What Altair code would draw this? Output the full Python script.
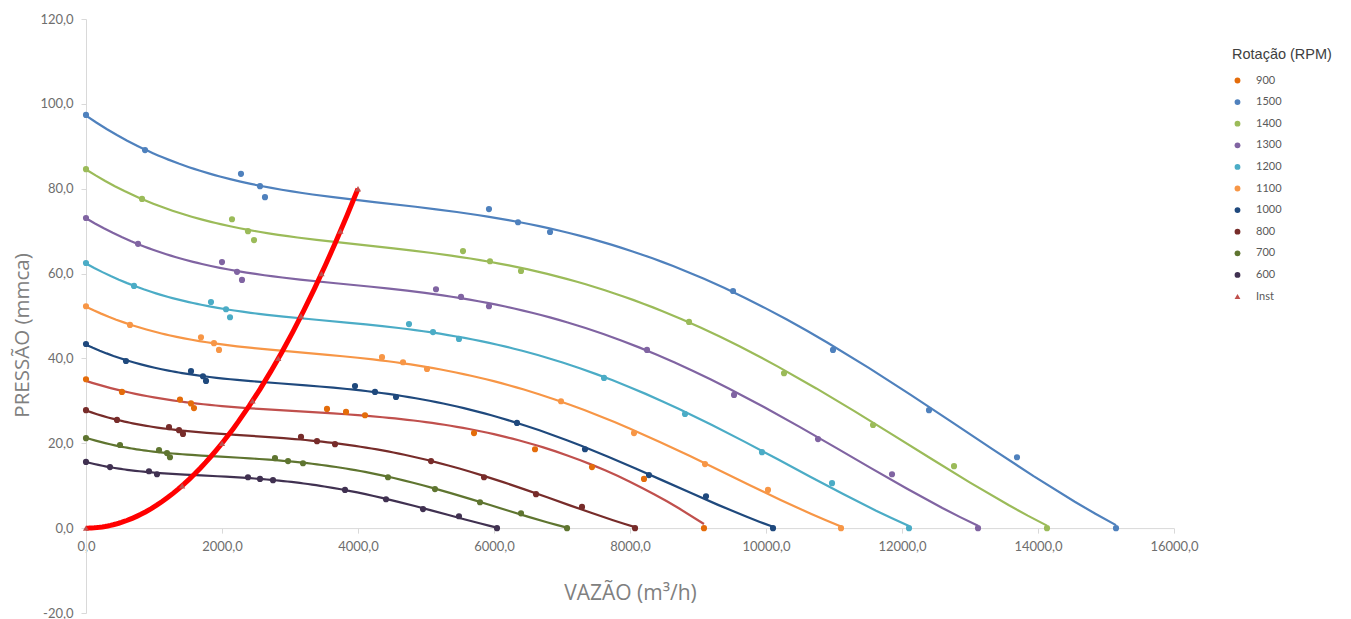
import altair as alt
import pandas as pd

# ---- data ----
series_order = ["900", "1500", "1400", "1300", "1200", "1100", "1000", "800", "700", "600", "Inst"]
point_colors = ["#E46C0A", "#4F81BD", "#9BBB59", "#8064A2", "#4BACC6", "#F79646",
                "#1F497D", "#772C2A", "#5F7530", "#403151", "#C0504D"]
line_colors = ["#C0504D", "#4F81BD", "#9BBB59", "#8064A2", "#4BACC6", "#F79646",
               "#1F497D", "#772C2A", "#5F7530", "#403151", "#FF0000"]
shapes = ["circle"] * 10 + ["triangle-up"]

x_1500 = [0, 868, 2279, 2559, 2632, 5926, 6353, 6824, 9515, 10985, 12397, 13691, 15147]
y_1500 = [97.4, 89.1, 83.5, 80.6, 78.0, 75.2, 72.1, 69.8, 55.9, 42.0, 27.8, 16.7, 0.0]

x_1400 = [0, 824, 2147, 2382, 2471, 5544, 5941, 6397, 8868, 10265, 11574, 12765, 14132]
y_1400 = [84.6, 77.6, 72.8, 70.0, 67.9, 65.3, 62.9, 60.6, 48.6, 36.5, 24.3, 14.6, 0.0]

x_1300 = [0, 765, 2000, 2221, 2294, 5147, 5515, 5926, 8250, 9530, 10765, 11853, 13118]
y_1300 = [73.1, 67.0, 62.7, 60.4, 58.5, 56.3, 54.5, 52.3, 42.0, 31.4, 21.0, 12.7, 0.0]

x_1200 = [0, 706, 1838, 2059, 2118, 4750, 5103, 5485, 7618, 8809, 9941, 10971, 12103]
y_1200 = [62.5, 57.1, 53.3, 51.6, 49.7, 48.1, 46.2, 44.6, 35.4, 26.9, 17.9, 10.6, 0.0]

x_1100 = [0, 647, 1691, 1882, 1956, 4353, 4662, 5015, 6985, 8059, 9103, 10029, 11103]
y_1100 = [52.3, 47.9, 45.0, 43.6, 42.0, 40.3, 39.1, 37.5, 29.9, 22.4, 15.1, 9.0, 0.0]

x_1000 = [0, 588, 1544, 1720, 1765, 3956, 4250, 4559, 6338, 7338, 8279, 9118, 10103]
y_1000 = [43.4, 39.4, 37.0, 35.8, 34.7, 33.5, 32.1, 30.9, 24.8, 18.6, 12.5, 7.5, 0.0]

x_900 = [0, 529, 1382, 1544, 1588, 3544, 3824, 4103, 5706, 6603, 7441, 8206, 9088]
y_900 = [35.1, 32.1, 30.3, 29.4, 28.3, 28.1, 27.4, 26.6, 22.4, 18.6, 14.4, 11.6, 0.0]

x_800 = [0, 456, 1221, 1368, 1426, 3162, 3397, 3662, 5074, 5853, 6618, 7294, 8074]
y_800 = [27.8, 25.5, 23.8, 23.1, 22.2, 21.5, 20.5, 19.8, 15.8, 12.0, 8.0, 5.0, 0.0]

x_700 = [0, 500, 1074, 1191, 1235, 2779, 2971, 3191, 4441, 5132, 5794, 6397, 7074]
y_700 = [21.2, 19.6, 18.4, 17.7, 16.7, 16.5, 15.8, 15.3, 12.0, 9.2, 6.1, 3.5, 0.0]

x_600 = [0, 353, 926, 1044, 2382, 2559, 2750, 3809, 4412, 4956, 5485, 6044]
y_600 = [15.6, 14.4, 13.4, 12.7, 12.0, 11.6, 11.3, 9.0, 6.8, 4.5, 2.8, 0.0]

x_inst = [0, 1414, 2000, 2449, 2828, 3162, 3464, 3742, 4000]
y_inst = [0, 10, 20, 30, 40, 50, 60, 70, 80]

y_ticks = [-20, 0, 20, 40, 60, 80, 100, 120]
x_ticks = [0, 2000, 4000, 6000, 8000, 10000, 12000, 14000, 16000]

# ---- table ----
series_data = {
    "900": (x_900, y_900), "1500": (x_1500, y_1500), "1400": (x_1400, y_1400),
    "1300": (x_1300, y_1300), "1200": (x_1200, y_1200), "1100": (x_1100, y_1100),
    "1000": (x_1000, y_1000), "800": (x_800, y_800), "700": (x_700, y_700),
    "600": (x_600, y_600), "Inst": (x_inst, y_inst),
}
rows = []
for name, (xs, ys) in series_data.items():
    for xv, yv in zip(xs, ys):
        rows.append({"serie": name, "vazao": xv, "pressao": yv})
df = pd.DataFrame(rows)

label_expr = "replace(replace(format(datum.value, '.1f'), '.', ','), '\u2212', '-')"
AX_GRAY = "#D9D9D9"
LBL = "#6E6E6E"
TTL = "#808080"

x_enc = alt.X(
    "vazao:Q",
    scale=alt.Scale(domain=[0, 16000], nice=False, zero=False),
    axis=alt.Axis(
        values=x_ticks, labelExpr=label_expr, title="VAZÃO (m³/h)", grid=False,
        offset=-84.9, domainColor=AX_GRAY, tickColor=AX_GRAY, tickSize=5,
        labelPadding=7, labelFontSize=13, labelColor=LBL, labelFont="Lato",
        labelFlush=False, labelOverlap=False,
        titleFont="Open Sans", titleFontSize=21, titleColor=TTL, titleFontWeight="normal",
        titleX=544, titleY=65, titleBaseline="middle", titleAlign="center",
    ),
)
y_enc = alt.Y(
    "pressao:Q",
    scale=alt.Scale(domain=[-20, 120], nice=False, zero=False),
    axis=alt.Axis(
        values=y_ticks, labelExpr=label_expr, title="PRESSÃO (mmca)", grid=False,
        domainColor=AX_GRAY, tickColor=AX_GRAY, tickSize=5, labelPadding=8,
        labelFontSize=13, labelColor=LBL, labelFont="Lato",
        labelFlush=False, labelOverlap=False,
        titleFont="Open Sans", titleFontSize=20.5, titleColor=TTL, titleFontWeight="normal",
        titleX=-64, titleY=316, titleBaseline="middle", titleAlign="center", titleAngle=270,
    ),
)

base = alt.Chart(df)

# one fitted trend line per rotation, drawn by Vega-Lite's regression transform
curve_layers = []
for name, lc in zip(series_order, line_colors):
    if name == "Inst":
        continue
    curve_layers.append(
        base.transform_filter(alt.datum.serie == name)
        .transform_regression("vazao", "pressao", method="poly", order=4)
        .mark_line(strokeWidth=2.2, color=lc)
        .encode(x=x_enc, y=y_enc)
    )

inst_line = (
    base.transform_filter(alt.datum.serie == "Inst")
    .transform_regression("vazao", "pressao", method="poly", order=2)
    .mark_line(strokeWidth=5, color="#FF0000")
    .encode(x=x_enc, y=y_enc)
)

points = base.mark_point(filled=True, size=38, opacity=1).encode(
    x=x_enc, y=y_enc,
    color=alt.Color("serie:N", scale=alt.Scale(domain=series_order, range=point_colors),
                    title="Rotação (RPM)"),
    shape=alt.Shape("serie:N", scale=alt.Scale(domain=series_order, range=shapes),
                    title="Rotação (RPM)"),
)

chart = (
    alt.layer(*curve_layers, inst_line, points)
    .properties(
        width=1088, height=594,
        autosize=alt.AutoSizeParams(type="none"),
        padding={"left": 78, "top": 11, "right": 160, "bottom": 8},
        background="white",
    )
    .configure_view(stroke=None)
    .configure_legend(
        orient="right", offset=29, padding=29,
        titleFont="Liberation Sans", titleFontSize=14.5, titleFontWeight="normal", titleColor="#404040",
        titlePadding=12.5, labelFont="Lato", labelFontSize=11, labelColor="#595959",
        symbolSize=34, rowPadding=9.6, labelOffset=13,
    )
)

chart.save("out.html", embed_options={"renderer": "svg", "actions": False})
